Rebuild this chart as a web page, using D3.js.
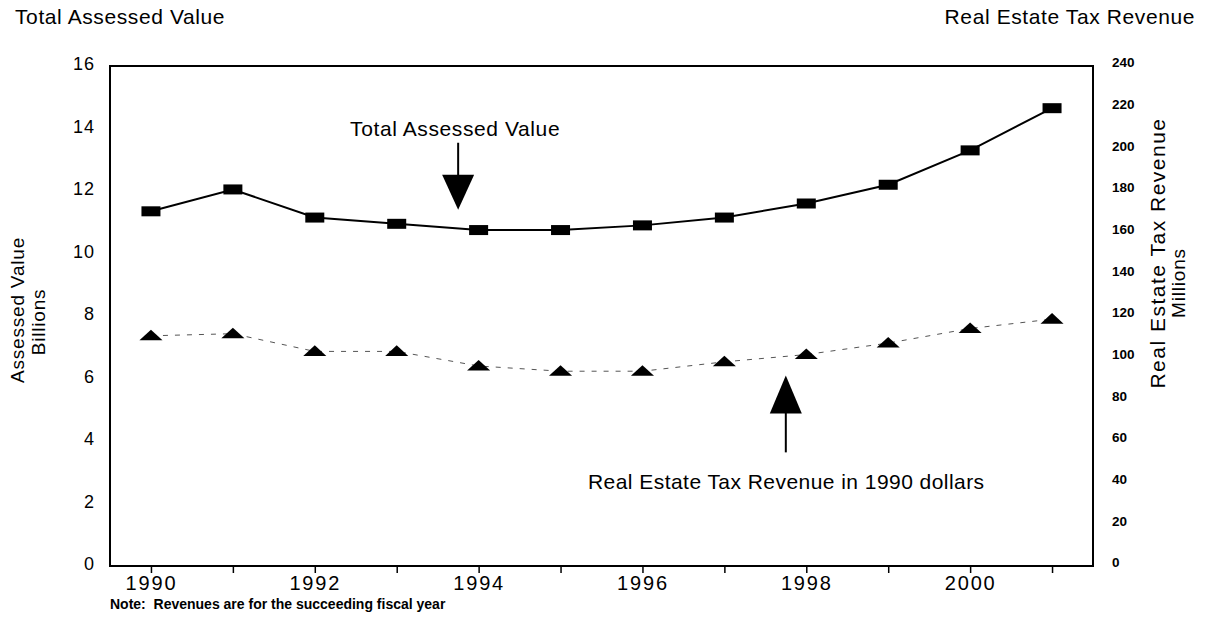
<!DOCTYPE html>
<html>
<head>
<meta charset="utf-8">
<script src="https://cdn.jsdelivr.net/npm/d3@7"></script>
<style>
  body { margin: 0; background: #fff; }
  text { font-family: 'Liberation Sans', Arial, sans-serif; fill: #000; }
</style>
</head>
<body>
<div class="container"></div>
<script>
const years = [1990, 1991, 1992, 1993, 1994, 1995, 1996, 1997, 1998, 1999, 2000, 2001]
// billions
const assessed = [11.35, 12.05, 11.15, 10.95, 10.75, 10.75, 10.9, 11.15, 11.6, 12.2, 13.3, 14.65]
// millions, 1990 dollars
const revenue = [110.5, 111.5, 103, 103, 96, 93.5, 93.5, 98, 101.5, 107, 114, 118.5]
const leftTicks = [0, 2, 4, 6, 8, 10, 12, 14, 16]
const rightTicks = [0, 20, 40, 60, 80, 100, 120, 140, 160, 180, 200, 220, 240]

const w = 1205
const h = 633
const padL = 110, padR = 1093, padT = 66, padB = 566

const svg = d3.select('.container')
  .append('svg')
  .attr('width', w)
  .attr('height', h)

const xScale = d3.scaleLinear()
  .domain([1989.5, 2001.5])
  .range([padL, padR])

const yLeft = d3.scaleLinear()
  .domain([0, 16])
  .range([padB, padT])

const yRight = d3.scaleLinear()
  .domain([0, 240])
  .range([padB, padT])

// titles
svg.append('text')
  .text('Total Assessed Value')
  .attr('x', 15).attr('y', 24)
  .attr('font-size', 21)
  .attr('letter-spacing', 0.6)

svg.append('text')
  .text('Real Estate Tax Revenue')
  .attr('x', 1195).attr('y', 24)
  .attr('text-anchor', 'end')
  .attr('font-size', 21)
  .attr('letter-spacing', 0.6)

// frame
svg.append('rect')
  .attr('x', padL).attr('y', padT)
  .attr('width', padR - padL).attr('height', padB - padT)
  .attr('fill', 'none')
  .attr('stroke', '#000')
  .attr('stroke-width', 2)

// axes
const xAxis = d3.axisBottom(xScale)
  .tickValues(years)
  .tickSize(7)
  .tickFormat(d => d % 2 === 0 ? d : '')

const gx = svg.append('g')
  .attr('transform', `translate(0, ${padB})`)
  .call(xAxis)
gx.select('.domain').remove()
gx.selectAll('line').attr('stroke-width', 1.5)
gx.selectAll('text')
  .attr('font-size', 20)
  .attr('letter-spacing', 1.8)
  .attr('dy', '0.72em')

const gl = svg.append('g')
  .attr('transform', `translate(${padL - 12}, 0)`)
  .call(d3.axisLeft(yLeft).tickValues(leftTicks).tickSize(0))
gl.select('.domain').remove()
gl.selectAll('text')
  .attr('font-size', 18)
  .attr('letter-spacing', 1)
  .attr('dy', '0.22em')

const gr = svg.append('g')
  .attr('transform', `translate(${padR + 16}, 0)`)
  .call(d3.axisRight(yRight).tickValues(rightTicks).tickSize(0))
gr.select('.domain').remove()
gr.selectAll('text')
  .attr('font-size', 13.5)
  .attr('font-weight', 'bold')
  .attr('dy', '0.05em')

// axis titles
svg.append('text')
  .text('Assessed Value')
  .attr('transform', 'translate(24, 310) rotate(-90)')
  .attr('text-anchor', 'middle')
  .attr('font-size', 19)
  .attr('letter-spacing', 0.8)

svg.append('text')
  .text('Billions')
  .attr('transform', 'translate(45, 322) rotate(-90)')
  .attr('text-anchor', 'middle')
  .attr('font-size', 19)
  .attr('letter-spacing', 0.8)

svg.append('text')
  .text('Real Estate Tax Revenue')
  .attr('transform', 'translate(1165, 253) rotate(-90)')
  .attr('text-anchor', 'middle')
  .attr('font-size', 21)
  .attr('letter-spacing', 1.5)

svg.append('text')
  .text('Millions')
  .attr('transform', 'translate(1185, 283) rotate(-90)')
  .attr('text-anchor', 'middle')
  .attr('font-size', 19)
  .attr('letter-spacing', 0.8)

// revenue line (dashed) with triangles
const revLine = d3.line()
  .x((d, i) => xScale(years[i]))
  .y(d => yRight(d))

svg.append('path')
  .datum(revenue)
  .attr('d', revLine)
  .attr('fill', 'none')
  .attr('stroke', '#555')
  .attr('stroke-width', 1)
  .attr('stroke-dasharray', '5,7')

svg.selectAll('.tri')
  .data(revenue)
  .enter()
  .append('path')
  .attr('class', 'tri')
  .attr('d', d3.symbol().type(d3.symbolTriangle).size(90))
  .attr('transform', (d, i) => `translate(${xScale(years[i])}, ${yRight(d) + 1}) scale(1.6, 0.85)`)
  .attr('fill', '#000')

// assessed value line with squares
const avLine = d3.line()
  .x((d, i) => xScale(years[i]))
  .y(d => yLeft(d))

svg.append('path')
  .datum(assessed)
  .attr('d', avLine)
  .attr('fill', 'none')
  .attr('stroke', '#000')
  .attr('stroke-width', 2)

svg.selectAll('.sq')
  .data(assessed)
  .enter()
  .append('rect')
  .attr('class', 'sq')
  .attr('x', (d, i) => xScale(years[i]) - 9.5)
  .attr('y', d => yLeft(d) - 5)
  .attr('width', 19)
  .attr('height', 10)
  .attr('fill', '#000')

// annotations
const avArrow = { year: 1993.75, value: 11.4, label: 'Total Assessed Value' }
const revArrow = { year: 1997.75, value: 91.5, label: 'Real Estate Tax Revenue in 1990 dollars' }

const ax = xScale(avArrow.year)
const ay = yLeft(avArrow.value)
svg.append('text')
  .text(avArrow.label)
  .attr('x', ax - 3).attr('y', ay - 74)
  .attr('text-anchor', 'middle')
  .attr('font-size', 21)
  .attr('letter-spacing', 0.6)
svg.append('line')
  .attr('x1', ax).attr('x2', ax)
  .attr('y1', ay - 67).attr('y2', ay - 34)
  .attr('stroke', '#000').attr('stroke-width', 2)
svg.append('path')
  .attr('d', `M${ax - 16},${ay - 35} L${ax + 16},${ay - 35} L${ax},${ay} Z`)
  .attr('fill', '#000')

const bx = xScale(revArrow.year)
const by = yRight(revArrow.value)
svg.append('path')
  .attr('d', `M${bx - 16},${by + 38} L${bx + 16},${by + 38} L${bx},${by} Z`)
  .attr('fill', '#000')
svg.append('line')
  .attr('x1', bx).attr('x2', bx)
  .attr('y1', by + 37).attr('y2', by + 77)
  .attr('stroke', '#000').attr('stroke-width', 2)
svg.append('text')
  .text(revArrow.label)
  .attr('x', 588).attr('y', by + 114)
  .attr('font-size', 21)
  .attr('letter-spacing', 0.45)

// note
svg.append('text')
  .text('Note:  Revenues are for the succeeding fiscal year')
  .attr('x', 110).attr('y', 609)
  .attr('font-size', 14)
  .attr('font-weight', 'bold')
  .style('white-space', 'pre')
</script>
</body>
</html>
